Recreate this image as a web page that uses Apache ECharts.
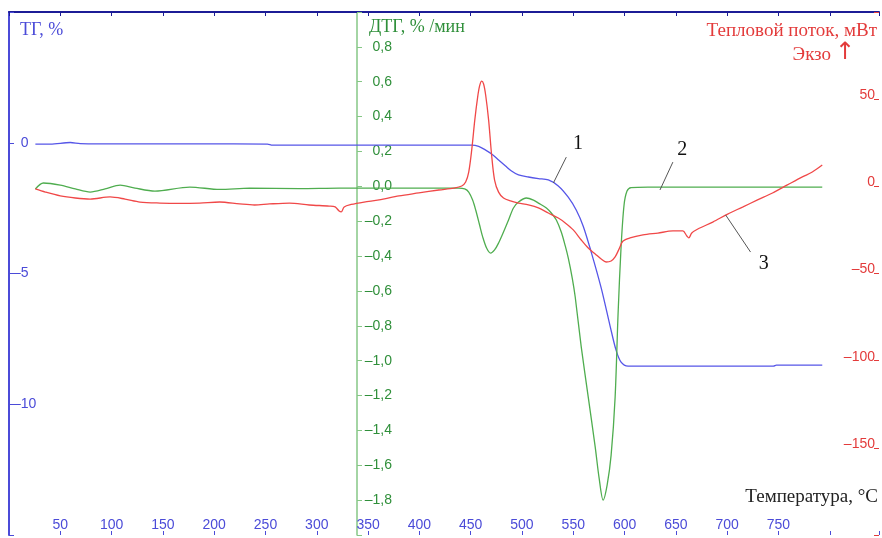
<!DOCTYPE html>
<html>
<head>
<meta charset="utf-8">
<script src="https://cdn.jsdelivr.net/npm/echarts@6/dist/echarts.min.js"></script>
<style>
  html, body { margin: 0; padding: 0; background: #fff; }
  #chart { width: 882px; height: 538px; }
</style>
</head>
<body>
<div id="chart"></div>
<script>
// ТГ, % (кривая 1)
const tgT = [25.7, 40.3, 59.7, 69.4, 88.8, 185.9, 251.9, 256.8, 331.6, 399.5, 451, 457.8, 464.6, 470.4, 477.2, 484, 489.8, 496.6, 506.3, 516, 525.7, 535.4, 545.1, 553, 559.7, 567.5, 577.2, 585.9, 591.7, 596.6, 603.4, 671.4, 745.1, 748, 792.7]
const tgV = [-0.05, -0.05, 0.01, -0.03, -0.04, -0.04, -0.05, -0.09, -0.09, -0.09, -0.09, -0.14, -0.28, -0.43, -0.66, -0.89, -1.08, -1.23, -1.31, -1.37, -1.42, -1.65, -2.08, -2.58, -3.19, -4.18, -5.55, -7.01, -7.93, -8.39, -8.54, -8.54, -8.54, -8.5, -8.5]

// ДТГ, %/мин (кривая 2)
const dtgT = [25.7, 33.5, 50, 64.6, 79.1, 93.7, 108.3, 122.8, 142.2, 176.2, 205.3, 234.5, 283, 321.8, 380, 438.3, 444.2, 448.1, 451.9, 454.9, 458.7, 461.7, 465.5, 469.4, 473.3, 477.2, 482, 486.9, 491.7, 496.6, 504.4, 511.2, 516, 523.8, 528.6, 533.5, 538.3, 542.2, 545.1, 549, 551.9, 557.8, 564.6, 571.4, 575.2, 579.1, 583, 586.9, 590.8, 593.7, 596.6, 599.5, 602.4, 606.3, 622.8, 671.4, 729.6, 792.7]
const dtgV = [-0.015, 0.019, 0.007, -0.015, -0.033, -0.015, 0.007, -0.01, -0.027, -0.004, -0.018, -0.01, -0.013, -0.01, -0.01, -0.01, -0.015, -0.033, -0.079, -0.136, -0.222, -0.29, -0.354, -0.383, -0.365, -0.325, -0.262, -0.193, -0.124, -0.09, -0.067, -0.079, -0.096, -0.124, -0.153, -0.193, -0.262, -0.342, -0.411, -0.526, -0.635, -0.922, -1.209, -1.496, -1.674, -1.8, -1.714, -1.542, -1.209, -0.727, -0.347, -0.107, -0.027, -0.007, -0.004, -0.004, -0.004, -0.004]

// Тепловой поток, мВт (кривая 3)
const hfT = [25.7, 35.4, 50, 64.6, 79.1, 98.5, 113.1, 127.7, 147.1, 166.5, 185.9, 205.3, 224.8, 239.3, 253.9, 273.3, 292.7, 312.1, 317.9, 321.8, 323.8, 326.7, 333.5, 346.1, 360.7, 380.1, 399.5, 418.9, 433.5, 441.3, 445.1, 448.1, 451, 454, 456.8, 458.7, 460.7, 462.6, 464.6, 467.5, 470.4, 473.3, 477.2, 482, 488.8, 496.6, 506.3, 516, 525.7, 535.4, 542.2, 550, 557.8, 564.6, 571.4, 577.2, 582, 586.9, 590.8, 594.6, 598.5, 605.3, 617.9, 632.5, 647.1, 656.8, 660.7, 662.6, 665.5, 671.4, 686, 700.5, 715, 729.6, 744.2, 758.7, 773.3, 783, 792.7]
const hfV = [-1.5, -3.3, -5.5, -6.7, -7.3, -6.1, -7.3, -9, -9.6, -9.8, -9.6, -9, -10.1, -10.7, -10.1, -9.6, -10.7, -11.3, -11.8, -14.2, -14.7, -11.8, -10.4, -9, -7.8, -5.5, -3.8, -2.1, -1, 0.2, 2.5, 8.2, 20.8, 38, 51.2, 57.6, 60.4, 58.7, 52.4, 38, 18, 3.6, -3.3, -6.7, -8.4, -9.6, -10.7, -12.4, -15.3, -18.2, -21, -25, -30.8, -35.4, -38.8, -41.7, -43.4, -42.8, -40.5, -36, -31.4, -29.6, -27.9, -26.8, -25.6, -25.6, -28.5, -29.6, -26.8, -24.5, -20.5, -15.9, -11.9, -7.8, -3.8, 0.8, 5.4, 8.2, 12.2]

// выноски 1, 2, 3: [начало, конец] в координатах данных
const lead1 = [[543.2, -0.55], [530.6, -1.54]]
const lead2 = [[647.1, 0.139], [634.5, -0.021]]
const lead3 = [[722.8, -37.7], [698.5, -16.4]]

const zip = (xs, ys) => xs.map((x, i) => [x, ys[i]])
const dash = s => String(s).replace('-', '–')

const BLUE = '#4b4bd8'
const GREEN_AX = '#86c786'
const GREEN_TX = '#2f8f3a'
const RED = '#e33b3b'
const SERIF = '"Liberation Serif", "DejaVu Serif", serif'
const SANS = '"Liberation Sans", Arial, sans-serif'

const chart = echarts.init(document.getElementById('chart'))

const leader = (coords, text, dist, padLeft) => ({
  silent: true,
  symbol: ['none', 'none'],
  lineStyle: { color: '#555', width: 1, type: 'solid' },
  label: {
    show: true,
    position: 'start',
    formatter: text,
    color: '#111',
    fontFamily: SERIF,
    fontSize: 20,
    distance: dist,
    padding: [0, 0, 0, padLeft]
  },
  data: [[{ coord: coords[0] }, { coord: coords[1] }]]
})

chart.setOption({
  animation: false,
  grid: { left: 9, right: 0, top: 12, bottom: 3 },
  xAxis: [
    {
      type: 'value',
      position: 'bottom',
      min: 0,
      max: 848,
      interval: 50,
      axisLine: { show: false, onZero: false },
      axisTick: { show: true, inside: true, length: 4, lineStyle: { color: BLUE } },
      axisLabel: {
        inside: true,
        margin: 3,
        color: BLUE,
        fontFamily: SANS,
        fontSize: 14,
        formatter: v => (v >= 50 && v <= 750 ? String(v) : '')
      },
      splitLine: { show: false }
    },
    {
      type: 'value',
      position: 'top',
      min: 0,
      max: 848,
      interval: 50,
      axisLine: { show: true, onZero: false, lineStyle: { color: '#1c1c96', width: 2 } },
      axisTick: { show: true, inside: true, length: 4, lineStyle: { color: '#1c1c96' } },
      axisLabel: { show: false },
      splitLine: { show: false }
    }
  ],
  yAxis: [
    {
      type: 'value',
      position: 'left',
      min: -15,
      max: 5,
      interval: 5,
      axisLine: { show: true, onZero: false, lineStyle: { color: BLUE, width: 2 } },
      axisTick: { show: true, inside: true, length: 5, lineStyle: { color: BLUE } },
      axisLabel: {
        inside: true,
        margin: 4,
        color: BLUE,
        fontFamily: SANS,
        fontSize: 14,
        formatter: v => (v === 0 ? '  0' : v < 0 && v >= -10 ? dash(v) : '')
      },
      splitLine: { show: false }
    },
    {
      type: 'value',
      position: 'left',
      offset: -348,
      min: -2,
      max: 1,
      interval: 0.2,
      axisLine: { show: true, onZero: false, lineStyle: { color: GREEN_AX, width: 1.5 } },
      axisTick: { show: true, inside: true, length: 5, lineStyle: { color: GREEN_AX } },
      axisLabel: {
        inside: true,
        margin: 35,
        align: 'right',
        color: GREEN_TX,
        fontFamily: SANS,
        fontSize: 14,
        formatter: v => {
          const r = Math.round(v * 10) / 10
          if (r < -1.85 || r > 0.85) return ''
          return dash(r.toFixed(1).replace('.', ',')).replace('–0,0', '0,0')
        }
      },
      splitLine: { show: false }
    },
    {
      type: 'value',
      position: 'right',
      min: -200,
      max: 100,
      interval: 50,
      axisLine: { show: false, onZero: false },
      axisTick: { show: true, inside: true, length: 5, lineStyle: { color: RED } },
      axisLabel: {
        inside: true,
        margin: 4,
        color: RED,
        fontFamily: SANS,
        fontSize: 14,
        verticalAlign: 'bottom',
        lineHeight: 8,
        formatter: v => (v >= -150 && v <= 50 ? dash(v) : '')
      },
      splitLine: { show: false }
    }
  ],
  series: [
    {
      name: 'ТГ',
      type: 'line',
      xAxisIndex: 0,
      yAxisIndex: 0,
      data: zip(tgT, tgV),
      showSymbol: false,
      smooth: 0.3,
      lineStyle: { color: '#5656e8', width: 1.3 },
      markLine: leader(lead1, '1', 4, 20)
    },
    {
      name: 'ДТГ',
      type: 'line',
      xAxisIndex: 0,
      yAxisIndex: 1,
      data: zip(dtgT, dtgV),
      showSymbol: false,
      smooth: 0.3,
      lineStyle: { color: '#4fad4f', width: 1.3 },
      markLine: leader(lead2, '2', 3, 16)
    },
    {
      name: 'Тепловой поток',
      type: 'line',
      xAxisIndex: 0,
      yAxisIndex: 2,
      data: zip(hfT, hfV),
      showSymbol: false,
      smooth: 0.3,
      lineStyle: { color: '#f04848', width: 1.3 },
      markLine: leader(lead3, '3', 2, 24)
    }
  ],
  graphic: [
    { type: 'text', style: { x: 20, y: 30, text: 'ТГ, %', fill: BLUE, font: '18px ' + SERIF, textVerticalAlign: 'middle' } },
    { type: 'text', style: { x: 369, y: 27, text: 'ДТГ, % /мин', fill: GREEN_TX, font: '18px ' + SERIF, textVerticalAlign: 'middle' } },
    { type: 'text', style: { x: 877, y: 31, text: 'Тепловой поток, мВт', fill: RED, font: '19px ' + SERIF, textAlign: 'right', textVerticalAlign: 'middle' } },
    { type: 'text', style: { x: 831, y: 55, text: 'Экзо', fill: RED, font: '19px ' + SERIF, textAlign: 'right', textVerticalAlign: 'middle' } },
    { type: 'text', style: { x: 845, y: 53, text: '↑', fill: RED, font: '24px "DejaVu Sans", sans-serif', textAlign: 'center', textVerticalAlign: 'middle' } },
    { type: 'text', style: { x: 878, y: 497, text: 'Температура, °С', fill: '#222', font: '19px ' + SERIF, textAlign: 'right', textVerticalAlign: 'middle' } }
  ]
})
</script>
</body>
</html>
